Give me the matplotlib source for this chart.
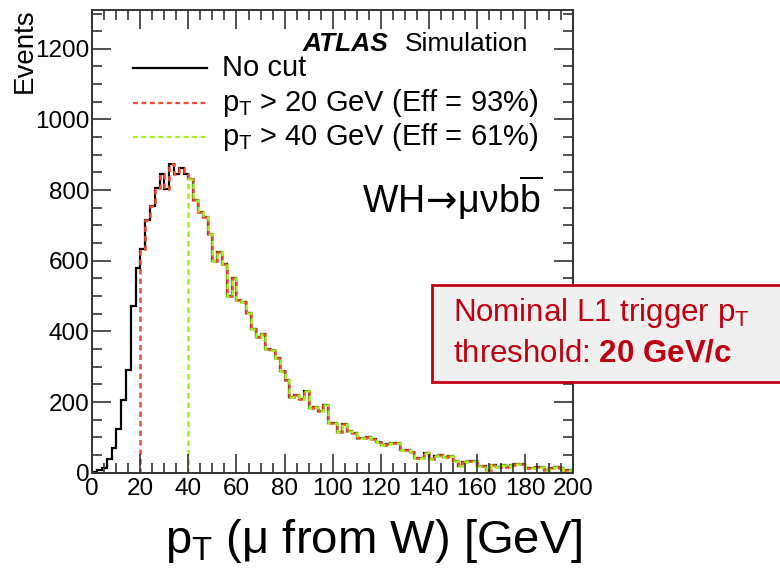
import numpy as np
import matplotlib.pyplot as plt
from matplotlib.patches import Rectangle

plt.rcParams['font.family'] = 'Liberation Sans'
plt.rcParams['mathtext.fontset'] = 'custom'
plt.rcParams['mathtext.rm'] = 'Liberation Sans'
plt.rcParams['mathtext.it'] = 'Liberation Sans'
plt.rcParams['mathtext.bf'] = 'Liberation Sans:bold'
plt.rcParams['mathtext.sf'] = 'DejaVu Sans'

# muon pT from W, 2 GeV bins from 0 to 200
bin_edges = np.arange(0, 202, 2)
events = [
    2, 9, 12, 38, 71, 125, 207, 290, 472, 580,
    632, 715, 756, 807, 845, 802, 875, 845, 864, 845,
    832, 773, 738, 724, 677, 599, 625, 592, 501, 552,
    488, 484, 451, 408, 383, 394, 350, 347, 326, 288,
    262, 213, 221, 209, 232, 182, 185, 174, 192, 140,
    140, 116, 138, 118, 113, 99, 99, 102, 94, 88,
    78, 81, 85, 85, 64, 64, 59, 43, 43, 57,
    38, 47, 51, 45, 47, 33, 19, 31, 33, 34,
    19, 19, 9, 22, 15, 22, 17, 22, 24, 24,
    12, 14, 17, 15, 9, 12, 15, 14, 9, 8,
]
cuts = [20, 40]
cut_labels = [r'$p_{T}$ > 20 GeV (Eff = 93%)', r'$p_{T}$ > 40 GeV (Eff = 61%)']
cut_colors = ['#ee4a36', '#a2f01e']

events = np.array(events)
centers = 0.5 * (bin_edges[:-1] + bin_edges[1:])
dotted = (0, (2.2, 1.6))

fig = plt.figure(figsize=(7.8, 5.7), dpi=100)
ax = fig.add_axes([0.1183, 0.1707, 0.6163, 0.8118])

ax.stairs(events, bin_edges, color='black', lw=1.6)
for cut, color in zip(cuts, cut_colors):
    passed = np.where(centers > cut, events, 0)
    ax.stairs(passed, bin_edges, color=color, lw=1.8, linestyle=dotted)

ax.set_xlim(0, 200)
ax.set_ylim(0, 1310)
ax.set_xticks(np.arange(0, 201, 20))
ax.set_xticks(np.arange(0, 201, 5), minor=True)
ax.set_yticks(np.arange(0, 1201, 200))
ax.set_yticks(np.arange(0, 1301, 50), minor=True)
ax.tick_params(which='both', direction='in', top=True, right=True,
               labelsize=17.5, color='#333333', width=1.2)
ax.tick_params(which='major', length=14)
ax.tick_params(which='minor', length=7)
ax.tick_params(axis='x', pad=4)
ax.tick_params(axis='y', pad=2)
for s in ax.spines.values():
    s.set_color('#333333')
    s.set_linewidth(1.4)

fig.text(0.015, 0.985, 'Events', rotation=90, ha='left', va='top', fontsize=20)
fig.text(0.479, 0.03, r'$p_{T}$ ($\mu$ from W) [GeV]', ha='center', va='baseline',
         fontsize=34)

# legend
tr = ax.transAxes
rows = [('No cut', 'black', '-'),
        (cut_labels[0], cut_colors[0], dotted),
        (cut_labels[1], cut_colors[1], dotted)]
for i, (label, color, ls) in enumerate(rows):
    y = 0.874 - i * 0.0745
    ax.plot([0.085, 0.238], [y, y], color=color, lw=1.6, ls=ls, transform=tr)
    ax.text(0.27, y, label, transform=tr, fontsize=21, va='center', ha='left')

ax.text(0.438, 0.912, 'ATLAS', transform=tr, fontsize=19, fontweight='bold',
        fontstyle='italic', ha='left', va='baseline')
ax.text(0.65, 0.912, 'Simulation', transform=tr, fontsize=19,
        ha='left', va='baseline')
ax.text(0.562, 0.561, r'WH$\!\mathsf{\rightarrow}\!$μνb$\overline{\mathrm{b}}$',
        transform=tr, fontsize=27, ha='left', va='baseline')

# trigger threshold note
fig.patches.append(Rectangle((432 / 780, 1 - 381.5 / 570), 0.6, 96.5 / 570,
                             transform=fig.transFigure, facecolor='#f0f0f0',
                             edgecolor='#c00010', lw=2, zorder=5))
fig.text(453 / 780, 1 - 321 / 570, r'Nominal L1 trigger p$_{\mathrm{T}}$',
         color='#c00010', fontsize=22.5, ha='left', va='baseline', zorder=6)
fig.text(453 / 780, 1 - 362 / 570, r'threshold: $\mathbf{20\ GeV/c}$',
         color='#c00010', fontsize=22.5, ha='left', va='baseline', zorder=6)

fig.savefig('out.png', dpi=100)
